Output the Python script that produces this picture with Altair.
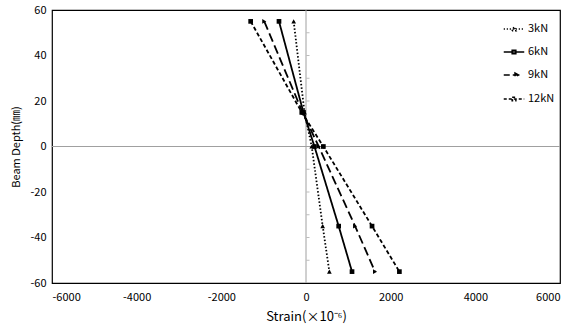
import altair as alt
import pandas as pd

depths = [55, 15, 0, -35, -55]
series_names = ["3kN", "6kN", "9kN", "12kN"]
s3 = [-291, -35, 135, 394, 552]
s6 = [-638, -60, 200, 772, 1087]
s9 = [-986, -80, 300, 1160, 1631]
s12 = [-1307, -100, 410, 1560, 2206]
x_ticks = [-6000, -4000, -2000, 0, 2000, 4000, 6000]
y_ticks = [-60, -40, -20, 0, 20, 40, 60]
minor_y = [-50, -40, -30, -20, -10, 10, 20, 30, 40, 50]

rows = []
for name, vals in zip(series_names, [s3, s6, s9, s12]):
    for d, v in zip(depths, vals):
        rows.append({"series": name, "key": name, "strain": v, "depth": d})
df = pd.DataFrame(rows)

FONT = "Noto Sans CJK KR"
xs = alt.Scale(domain=[-6000, 6000], nice=False, zero=False)
ys = alt.Scale(domain=[-60, 60], nice=False, zero=False)

dashes = [[1.5, 2], [1, 0], [9, 4], [4, 2.5]]
legend_dashes = [[1.2, 1.8], [1, 0], [6, 3], [3, 2]]
dash_scale = alt.Scale(domain=series_names, range=dashes)
shape_scale = alt.Scale(domain=series_names,
                        range=["triangle-up", "square", "triangle-right", "square"])
legend_paths = ["M-1,0H1M-0.2,0.18L0,-0.22L0.2,0.18Z",
                "M-1,0H1M-0.18,-0.18H0.18V0.18H-0.18Z",
                "M-1,0H0.6M0.1,-0.2L0.45,0L0.1,0.2Z",
                "M-1,0H1M-0.18,-0.18H0.18V0.18H-0.18Z"]
legend_shape_scale = alt.Scale(domain=series_names, range=legend_paths)

x_enc = alt.X("strain:Q", scale=xs,
              axis=alt.Axis(values=x_ticks, grid=False, domain=False, ticks=False,
                            labelExpr="'' + datum.value", labelPadding=8,
                            labelFontSize=11, labelFont=FONT, labelColor="#000",
                            title="Strain(×10⁻⁶)", titleFont=FONT, titleFontSize=13,
                            titleFontWeight="normal", titlePadding=8, titleColor="#000"))
y_enc = alt.Y("depth:Q", scale=ys,
              axis=alt.Axis(values=y_ticks, grid=False, domain=False, ticks=False,
                            labelExpr="'' + datum.value", labelPadding=6,
                            labelFontSize=11, labelFont=FONT, labelColor="#000",
                            title="Beam Depth(㎜)", titleFont=FONT, titleFontSize=11,
                            titleFontWeight="normal", titlePadding=8, titleColor="#000"))

zero_v = alt.Chart(pd.DataFrame({"v": [0]})).mark_rule(color="#a0a0a0", strokeWidth=1).encode(
    x=alt.X("v:Q", scale=xs))
zero_h = alt.Chart(pd.DataFrame({"v": [0]})).mark_rule(color="#a0a0a0", strokeWidth=1).encode(
    y=alt.Y("v:Q", scale=ys))
minor = alt.Chart(pd.DataFrame({"y": minor_y, "x": [0] * len(minor_y)})).mark_tick(
    color="#a0a0a0", orient="horizontal", size=3, thickness=1, xOffset=2).encode(
    x=alt.X("x:Q", scale=xs), y=alt.Y("y:Q", scale=ys))

lines = alt.Chart(df).mark_line(color="black", strokeWidth=1.8).encode(
    x=x_enc, y=y_enc,
    strokeDash=alt.StrokeDash("series:N", scale=dash_scale, legend=None),
    order=alt.Order("depth:Q", sort="descending"))

points = alt.Chart(df).mark_point(filled=True, color="black", opacity=1, size=22).encode(
    x=alt.X("strain:Q", scale=xs), y=alt.Y("depth:Q", scale=ys),
    shape=alt.Shape("series:N", scale=shape_scale, legend=None))

legend_layer = alt.Chart(df).mark_point(filled=False, color="black", opacity=0.001, size=1).encode(
    x=alt.X("strain:Q", scale=xs), y=alt.Y("depth:Q", scale=ys),
    shape=alt.Shape("key:N", scale=legend_shape_scale,
                    legend=alt.Legend(title=None, orient="none", legendX=451, legendY=8,
                                      labelFont=FONT, labelFontSize=11, labelColor="#000",
                                      symbolSize=420, symbolOpacity=1,
                                      symbolStrokeColor="black", symbolStrokeWidth=1.5,
                                      symbolFillColor="black",
                                      rowPadding=7, labelOffset=3)),
    strokeDash=alt.StrokeDash("key:N", scale=alt.Scale(domain=series_names, range=legend_dashes)))

chart = alt.layer(zero_v, zero_h, minor, lines, points, legend_layer).resolve_scale(
    shape="independent", strokeDash="independent"
).resolve_legend(shape="independent", strokeDash="independent").properties(
    width=508, height=273,
    autosize=alt.AutoSizeParams(type="none"),
    padding={"left": 52, "top": 10, "right": 11, "bottom": 52},
    background="white",
).configure_view(stroke="black", strokeWidth=1.2)

chart.save("out.html", embed_options={"renderer": "svg", "actions": False})
